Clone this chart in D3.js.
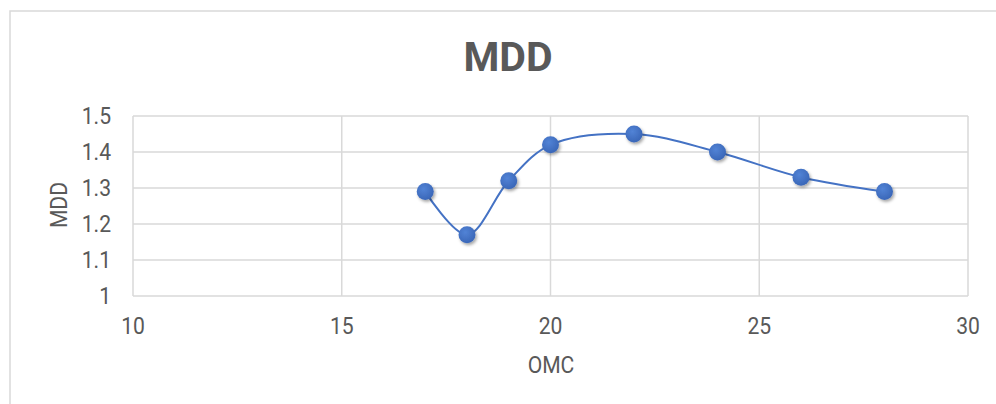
<!DOCTYPE html>
<html>
<head>
<meta charset="utf-8">
<script src="https://cdn.jsdelivr.net/npm/d3@7"></script>
<style>
  html, body { margin: 0; padding: 0; background: #fff; }
  svg text { font-family: Roboto, "Liberation Sans", sans-serif; fill: #595959; }
</style>
</head>
<body>
<svg id="chart" width="996" height="404"></svg>
<script>
// MDD vs OMC — smoothed scatter, Excel look
const omc = [17, 18, 19, 20, 22, 24, 26, 28];
const mdd = [1.29, 1.17, 1.32, 1.42, 1.45, 1.40, 1.33, 1.29];
const xTicks = [10, 15, 20, 25, 30];
const yTicks = [1, 1.1, 1.2, 1.3, 1.4, 1.5];
const yTickLabels = ["1", "1.1", "1.2", "1.3", "1.4", "1.5"];

(function () {
  const svg = d3.select("#chart");
  const grid = "#d9d9d9";
  const blue = "#4472c4";
  const narrow = 0.88; // labels in the reference use a condensed face
  const fs = 24;

  // plot area
  const plotL = 133, plotR = 968, plotT = 116, plotB = 296;

  // chart border (runs off right/bottom like the reference crop)
  svg.append("rect")
    .attr("x", 10).attr("y", 11)
    .attr("width", 1000).attr("height", 420)
    .attr("fill", "none").attr("stroke", grid).attr("stroke-width", 1.5);

  const x = d3.scaleLinear().domain([10, 30]).range([plotL, plotR]);
  const y = d3.scaleLinear().domain([1, 1.5]).range([plotB, plotT]);

  // shadow for markers
  const defs = svg.append("defs");
  const f = defs.append("filter").attr("id", "shadow")
    .attr("x", "-50%").attr("y", "-50%").attr("width", "200%").attr("height", "200%");
  f.append("feDropShadow").attr("dx", 1.5).attr("dy", 2).attr("stdDeviation", 1.8)
    .attr("flood-color", "#000").attr("flood-opacity", 0.35);
  const rg = defs.append("radialGradient").attr("id", "dot")
    .attr("cx", "40%").attr("cy", "35%").attr("r", "65%");
  rg.append("stop").attr("offset", "0%").attr("stop-color", "#5283d6");
  rg.append("stop").attr("offset", "100%").attr("stop-color", "#3a67b8");

  // gridlines
  svg.append("g").selectAll("line").data(yTicks).join("line")
    .attr("x1", plotL).attr("x2", plotR)
    .attr("y1", d => y(d)).attr("y2", d => y(d))
    .attr("stroke", grid).attr("stroke-width", 1.5);
  svg.append("g").selectAll("line").data(xTicks).join("line")
    .attr("x1", d => x(d)).attr("x2", d => x(d))
    .attr("y1", plotT).attr("y2", plotB)
    .attr("stroke", grid).attr("stroke-width", 1.5);

  // tick labels
  svg.append("g").selectAll("text").data(yTicks).join("text")
    .attr("transform", d => `translate(111,${y(d)}) scale(${narrow},1)`)
    .attr("dy", "0.35em")
    .attr("text-anchor", "end").attr("font-size", fs)
    .text((d, i) => yTickLabels[i]);
  svg.append("g").selectAll("text").data(xTicks).join("text")
    .attr("transform", d => `translate(${x(d)},334) scale(${narrow},1)`)
    .attr("text-anchor", "middle").attr("font-size", fs)
    .text(d => d);

  // axis titles
  svg.append("text")
    .attr("transform", `translate(551,373) scale(${narrow},1)`)
    .attr("text-anchor", "middle").attr("font-size", fs).text("OMC");
  svg.append("text")
    .attr("transform", `translate(67,205) rotate(-90) scale(${narrow},1)`)
    .attr("text-anchor", "middle").attr("font-size", fs).text("MDD");

  // title
  svg.append("text").attr("x", 508).attr("y", 71)
    .attr("text-anchor", "middle").attr("font-size", 41).attr("font-weight", "bold")
    .text("MDD");

  // series
  const pts = omc.map((v, i) => [v, mdd[i]]);
  const line = d3.line().x(d => x(d[0])).y(d => y(d[1]))
    .curve(d3.curveCatmullRom.alpha(0.5));
  svg.append("path").datum(pts)
    .attr("d", line).attr("fill", "none")
    .attr("stroke", blue).attr("stroke-width", 2);

  svg.append("g").selectAll("circle").data(pts).join("circle")
    .attr("cx", d => x(d[0])).attr("cy", d => y(d[1])).attr("r", 8.5)
    .attr("fill", "url(#dot)").attr("filter", "url(#shadow)");
})();
</script>
</body>
</html>
